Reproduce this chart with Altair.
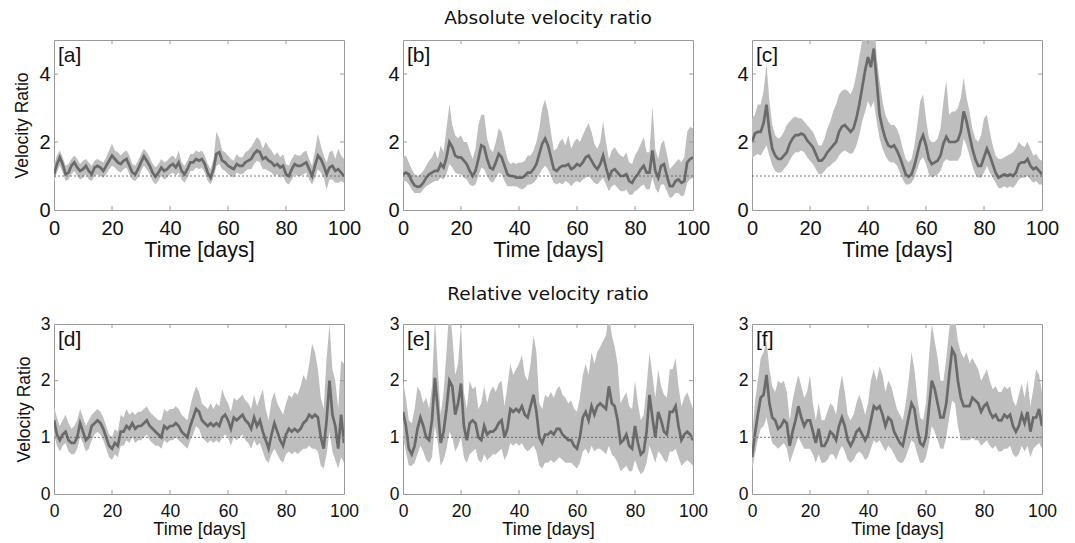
import altair as alt
import pandas as pd

days = list(range(101))

# ---- panel [a] absolute ----
a_mean = [1.05,1.35,1.55,1.35,1.05,1.1,1.3,1.4,1.25,1.15,1.2,1.3,1.15,1.05,1.25,1.3,1.25,1.15,1.3,1.45,
          1.6,1.5,1.4,1.35,1.45,1.5,1.3,1.1,1.05,1.2,1.4,1.58,1.45,1.3,1.1,0.98,1.1,1.25,1.15,1.2,
          1.3,1.35,1.25,1.4,1.15,1.05,1.2,1.4,1.4,1.5,1.45,1.5,1.35,1.1,0.95,1.2,1.65,1.7,1.45,1.4,
          1.3,1.25,1.2,1.35,1.3,1.3,1.4,1.45,1.5,1.65,1.75,1.7,1.5,1.55,1.45,1.4,1.3,1.35,1.25,1.3,
          1.05,1.0,1.2,1.35,1.3,1.3,1.35,1.4,1.2,1.0,1.3,1.6,1.5,1.3,1.05,1.25,1.3,1.15,1.2,1.1,1.0]
a_hi = [1.3,1.6,1.75,1.55,1.3,1.35,1.5,1.6,1.5,1.35,1.45,1.5,1.4,1.3,1.45,1.5,1.45,1.4,1.55,1.75,
        1.95,1.75,1.7,1.6,1.7,1.75,1.6,1.35,1.3,1.45,1.65,1.8,1.7,1.55,1.35,1.25,1.35,1.5,1.4,1.45,
        1.55,1.6,1.5,1.75,1.4,1.3,1.45,1.65,1.65,1.75,1.7,1.75,1.6,1.35,1.2,1.5,2.3,2.1,1.75,1.7,
        1.6,1.5,1.45,1.65,1.55,1.55,1.7,1.75,1.85,2.0,2.15,2.05,1.8,2.0,1.85,1.75,1.6,1.7,1.55,1.65,
        1.35,1.3,1.5,1.65,1.6,1.6,1.7,1.75,1.5,1.3,1.75,2.25,1.9,1.6,1.4,1.7,1.75,1.5,1.8,1.6,1.5]
a_lo = [0.8,1.1,1.3,1.1,0.85,0.9,1.05,1.15,1.0,0.9,0.95,1.05,0.9,0.85,1.0,1.05,1.0,0.95,1.05,1.2,
        1.3,1.25,1.15,1.1,1.2,1.25,1.05,0.9,0.85,0.95,1.15,1.3,1.2,1.05,0.85,0.75,0.85,1.0,0.9,0.95,
        1.05,1.1,1.0,1.1,0.9,0.8,0.95,1.15,1.15,1.25,1.2,1.25,1.1,0.85,0.75,0.95,1.3,1.35,1.2,1.15,
        1.05,1.0,0.95,1.1,1.05,1.05,1.15,1.2,1.2,1.35,1.45,1.4,1.2,1.2,1.15,1.1,1.0,1.05,0.95,1.0,
        0.8,0.75,0.9,1.05,1.0,1.0,1.05,1.1,0.9,0.75,0.95,1.2,1.1,0.95,0.6,0.9,0.9,0.8,0.8,0.85,0.8]

# ---- panel [b] absolute ----
b_mean = [1.05,1.1,1.05,0.85,0.72,0.68,0.7,0.8,0.95,1.05,1.1,1.15,1.15,1.35,1.25,1.55,2.0,1.85,1.6,1.55,
          1.55,1.45,1.35,1.15,1.0,1.15,1.5,1.9,1.85,1.5,1.25,1.2,1.4,1.65,1.55,1.3,1.05,1.0,1.0,0.95,
          0.95,0.95,1.0,1.1,1.1,1.2,1.35,1.65,1.95,2.1,1.9,1.55,1.2,1.15,1.25,1.3,1.3,1.35,1.2,1.25,
          1.35,1.3,1.4,1.55,1.6,1.45,1.3,1.2,1.35,1.6,1.25,0.95,1.15,1.2,1.1,1.0,1.0,1.05,0.85,0.8,
          0.95,1.05,1.2,1.3,1.1,1.1,1.75,1.15,0.95,1.3,1.35,1.0,0.7,0.7,0.85,0.9,0.8,0.85,1.4,1.5,1.55]
b_hi = [1.55,1.6,1.4,1.2,1.05,1.0,1.05,1.15,1.3,1.45,1.55,1.75,1.5,1.9,1.7,2.4,3.1,2.5,2.2,2.1,
        2.2,2.0,2.0,1.75,1.5,1.8,2.5,2.8,2.8,2.1,1.8,1.7,2.0,2.4,2.3,1.9,1.5,1.35,1.4,1.35,
        1.4,1.4,1.45,1.6,1.6,1.75,2.0,2.4,3.0,3.25,2.9,2.3,1.75,1.8,2.0,2.1,1.9,2.2,1.8,2.0,
        2.1,2.0,2.2,2.4,2.55,2.3,1.95,1.8,2.0,2.6,2.0,1.5,1.75,1.85,1.7,1.6,1.55,1.7,1.4,1.35,
        1.6,1.75,1.95,2.15,1.7,1.7,3.05,1.8,1.5,1.95,2.05,1.65,1.2,1.3,1.4,1.5,1.4,1.55,2.3,2.45,2.4]
b_lo = [0.85,0.85,0.75,0.6,0.5,0.5,0.5,0.6,0.7,0.75,0.8,0.85,0.85,0.95,0.9,1.05,1.35,1.25,1.1,1.05,
        1.05,0.95,0.9,0.75,0.7,0.75,1.0,1.25,1.2,1.0,0.85,0.8,0.95,1.1,1.05,0.85,0.7,0.7,0.7,0.7,
        0.65,0.6,0.65,0.75,0.75,0.8,0.9,1.05,1.2,1.3,1.2,1.0,0.8,0.75,0.8,0.75,0.85,0.8,0.7,0.8,
        0.85,0.8,0.9,0.95,1.0,0.9,0.8,0.75,0.85,0.95,0.75,0.55,0.7,0.75,0.65,0.55,0.55,0.6,0.45,0.45,
        0.55,0.6,0.7,0.75,0.6,0.6,0.95,0.65,0.5,0.75,0.75,0.55,0.35,0.4,0.5,0.5,0.4,0.45,0.8,0.9,0.95]

# ---- panel [c] absolute ----
c_mean = [2.0,2.25,2.3,2.3,2.55,3.1,2.3,1.8,1.6,1.5,1.5,1.6,1.7,1.95,2.1,2.2,2.2,2.25,2.2,2.05,
          1.95,1.85,1.65,1.45,1.45,1.55,1.7,1.8,1.9,2.0,2.3,2.45,2.5,2.4,2.3,2.4,2.7,3.1,3.6,4.1,
          4.5,4.2,4.75,3.8,2.8,2.4,2.1,1.9,1.85,1.9,1.75,1.55,1.3,1.05,0.98,1.05,1.3,1.65,2.0,2.2,
          1.9,1.5,1.35,1.4,1.45,1.6,1.95,2.15,2.0,2.0,2.0,2.05,2.3,2.9,2.6,2.2,1.8,1.5,1.3,1.3,
          1.55,1.8,1.6,1.35,1.1,0.95,1.0,1.05,1.0,1.05,1.0,1.1,1.35,1.4,1.4,1.5,1.3,1.2,1.25,1.15,1.05]
c_hi = [2.7,2.8,3.1,3.1,3.5,4.3,3.2,2.5,2.2,2.1,2.15,2.3,2.5,2.6,2.7,2.75,2.7,2.7,2.6,2.5,
        2.4,2.3,2.1,1.9,1.9,2.1,2.4,2.6,2.9,3.1,3.4,3.5,3.55,3.5,3.4,3.6,4.0,4.5,5.0,5.5,
        5.8,5.5,5.8,4.5,3.8,3.2,2.8,2.6,2.5,2.5,2.4,2.15,1.8,1.5,1.4,1.5,1.9,2.5,3.2,3.4,
        2.7,2.1,2.0,2.0,2.1,2.4,3.2,3.8,2.8,2.9,2.9,3.0,3.3,3.9,3.3,2.9,2.4,2.1,2.0,2.2,
        2.7,2.8,2.3,1.9,1.6,1.5,1.5,1.55,1.6,1.65,1.7,1.8,2.0,1.9,1.85,2.0,1.8,1.6,1.65,1.5,1.45]
c_lo = [1.5,1.6,1.65,1.6,1.75,1.9,1.6,1.3,1.15,1.1,1.1,1.2,1.3,1.45,1.6,1.7,1.7,1.75,1.7,1.55,
        1.45,1.35,1.2,1.05,1.05,1.15,1.25,1.3,1.4,1.45,1.6,1.7,1.75,1.7,1.65,1.7,1.9,2.2,2.6,2.9,
        3.2,3.0,3.2,2.6,2.1,1.8,1.6,1.45,1.4,1.4,1.3,1.1,0.9,0.75,0.75,0.8,0.95,1.2,1.45,1.55,
        1.35,1.05,0.95,1.0,1.05,1.15,1.4,1.5,1.45,1.45,1.45,1.45,1.6,2.1,1.9,1.6,1.3,1.05,0.95,0.95,
        1.1,1.3,1.1,0.95,0.8,0.65,0.65,0.7,0.65,0.7,0.65,0.75,0.9,0.95,0.95,1.0,0.9,0.8,0.85,0.75,0.75]

# ---- panel [d] relative ----
d_mean = [1.3,1.05,0.95,1.05,1.1,0.95,0.9,0.9,1.0,1.25,1.1,0.95,1.0,1.2,1.25,1.3,1.25,1.15,1.0,0.85,
          0.8,0.9,0.85,1.1,1.1,1.2,1.15,1.25,1.15,1.2,1.2,1.25,1.3,1.2,1.15,1.1,1.05,1.0,1.2,1.15,
          1.2,1.2,1.25,1.2,1.1,1.05,1.0,1.2,1.35,1.5,1.45,1.3,1.25,1.2,1.25,1.2,1.25,1.2,1.35,1.4,
          1.3,1.15,1.35,1.3,1.35,1.4,1.3,1.25,1.15,1.35,1.2,1.3,1.1,0.95,0.8,1.05,1.25,1.1,0.95,0.85,
          1.05,1.15,1.1,1.15,1.1,1.15,1.25,1.3,1.4,1.35,1.4,1.35,1.0,0.8,1.3,2.0,1.4,1.2,0.8,1.4,0.9]
d_hi = [1.55,1.35,1.2,1.3,1.4,1.25,1.15,1.2,1.3,1.5,1.35,1.2,1.3,1.4,1.45,1.5,1.45,1.35,1.2,1.05,
        1.0,1.15,1.1,1.4,1.35,1.5,1.4,1.45,1.4,1.45,1.45,1.5,1.55,1.45,1.4,1.35,1.3,1.3,1.5,1.45,
        1.5,1.5,1.55,1.5,1.4,1.35,1.3,1.55,1.75,1.9,1.8,1.6,1.55,1.5,1.6,1.5,1.6,1.55,1.85,1.7,
        1.6,1.45,1.7,1.65,1.7,1.75,1.65,1.6,1.5,1.75,1.55,1.7,1.85,1.5,1.3,1.65,1.8,1.6,1.5,1.4,
        1.6,1.75,1.7,1.8,1.75,1.9,2.1,2.0,2.3,2.65,2.5,2.2,1.7,1.5,2.4,3.0,2.2,2.0,1.5,2.35,2.3]
d_lo = [1.05,0.85,0.75,0.85,0.9,0.75,0.7,0.7,0.8,1.0,0.9,0.75,0.8,0.95,1.05,1.1,1.05,0.95,0.8,0.65,
        0.6,0.7,0.65,0.85,0.85,0.95,0.9,1.0,0.9,0.95,0.95,1.0,1.05,0.95,0.9,0.85,0.85,0.8,0.95,0.9,
        0.95,0.95,1.0,0.95,0.9,0.85,0.8,0.95,1.05,1.2,1.15,1.0,0.95,0.9,0.95,0.9,0.95,0.9,1.0,1.05,
        1.0,0.85,1.0,0.95,1.0,1.05,0.95,0.9,0.8,0.95,0.85,0.9,0.75,0.6,0.55,0.7,0.8,0.7,0.6,0.55,
        0.7,0.75,0.7,0.75,0.7,0.75,0.8,0.8,0.85,0.8,0.8,0.75,0.5,0.45,0.7,1.1,0.75,0.6,0.45,0.65,0.55]

# ---- panel [e] relative ----
e_mean = [1.45,1.2,0.8,0.7,0.85,1.15,1.35,1.2,1.0,0.95,1.3,2.05,1.5,0.9,1.1,1.5,2.0,1.9,1.4,1.6,
          1.95,1.2,0.95,1.25,1.3,1.25,1.0,0.95,1.2,1.05,1.1,1.1,1.15,1.25,1.3,1.0,1.15,1.5,1.45,1.5,
          1.45,1.55,1.4,1.35,1.55,1.75,1.45,1.0,0.9,1.05,1.05,1.1,1.05,1.15,1.15,1.05,1.0,0.95,0.95,0.85,
          0.8,1.0,1.35,1.45,1.3,1.55,1.4,1.55,1.6,1.55,1.5,1.9,1.6,1.55,1.3,0.9,0.95,1.05,0.85,0.8,
          1.2,0.9,0.7,0.75,1.1,1.75,1.35,1.0,1.45,1.3,1.1,1.05,1.45,1.45,1.55,1.2,0.95,1.05,1.1,1.05,0.95]
e_hi = [2.0,1.7,1.3,1.25,1.5,1.9,1.8,1.6,1.7,1.5,1.9,3.1,2.2,1.4,1.8,2.5,3.3,2.8,2.1,2.3,
        3.0,1.8,1.5,2.0,1.85,1.9,1.5,1.6,1.9,1.6,1.8,1.9,1.8,1.95,2.0,1.55,1.9,2.3,2.1,2.2,
        2.3,2.45,2.1,2.0,2.3,2.8,2.5,1.6,1.5,1.75,1.7,1.8,1.7,1.85,1.9,1.75,1.7,1.6,1.65,1.5,
        1.45,1.7,2.1,2.3,2.1,2.5,2.3,2.5,2.6,2.7,2.8,3.2,2.8,2.6,2.3,1.6,1.7,1.8,1.55,1.5,
        2.0,1.6,1.3,1.4,1.9,2.5,2.1,1.7,2.2,1.9,1.75,1.7,2.2,2.2,2.4,1.9,1.55,1.7,1.8,1.65,1.5]
e_lo = [1.0,0.75,0.5,0.5,0.55,0.7,0.85,0.75,0.6,0.55,0.65,1.2,0.9,0.5,0.6,0.8,1.1,1.0,0.75,0.85,
        1.0,0.65,0.55,0.7,0.75,0.8,0.6,0.55,0.7,0.6,0.65,0.7,0.7,0.75,0.8,0.6,0.7,0.9,0.85,0.9,
        0.85,0.9,0.8,0.75,0.8,0.85,0.75,0.5,0.45,0.55,0.55,0.6,0.55,0.6,0.65,0.6,0.55,0.55,0.55,0.5,
        0.45,0.55,0.75,0.8,0.7,0.85,0.75,0.8,0.8,0.75,0.7,0.85,0.7,0.65,0.55,0.4,0.45,0.5,0.4,0.4,
        0.6,0.45,0.35,0.4,0.55,0.85,0.7,0.55,0.75,0.7,0.6,0.55,0.75,0.75,0.8,0.65,0.5,0.55,0.6,0.55,0.5]

# ---- panel [f] relative ----
f_mean = [0.65,1.05,1.4,1.7,1.75,2.1,1.6,1.35,1.3,1.15,1.2,1.3,1.25,0.85,1.1,1.3,1.55,1.35,1.2,1.3,
          1.3,1.1,0.9,1.15,0.85,0.85,0.95,1.1,1.05,0.95,1.2,1.35,1.2,0.95,0.85,0.95,1.1,1.15,1.05,0.95,
          1.05,1.3,1.55,1.5,1.55,1.4,1.2,1.35,1.3,1.1,1.0,0.9,0.85,1.1,1.35,1.6,1.5,1.15,0.9,0.85,
          1.0,1.5,2.0,1.85,1.6,1.35,1.35,1.6,2.1,2.55,2.45,2.0,1.7,1.55,1.55,1.55,1.7,1.65,1.6,1.45,
          1.55,1.6,1.45,1.35,1.4,1.3,1.3,1.4,1.35,1.4,1.2,1.1,1.2,1.4,1.25,1.45,1.1,1.35,1.35,1.5,1.2]
f_hi = [1.0,1.6,2.0,2.4,2.5,2.7,2.2,1.9,1.8,2.0,1.95,2.0,1.8,1.3,1.65,1.9,2.1,1.9,1.7,1.8,
        2.1,1.6,1.3,1.6,1.3,1.3,1.45,1.6,1.55,1.4,1.8,2.1,1.8,1.4,1.3,1.4,1.6,1.75,1.6,1.4,
        1.6,2.0,2.2,2.0,2.25,2.1,1.8,2.0,1.9,1.7,1.5,1.4,1.3,1.6,2.0,2.5,2.2,1.7,1.35,1.3,
        1.6,2.4,3.0,2.7,2.4,2.0,2.0,2.4,2.9,3.2,3.1,2.7,2.5,2.4,2.5,2.3,2.4,2.3,2.2,2.0,
        2.1,2.2,2.0,1.85,1.9,1.8,1.8,1.9,1.85,1.9,1.65,1.55,1.75,1.95,1.7,2.0,1.55,1.85,2.2,2.1,1.8]
f_lo = [0.4,0.7,0.95,1.15,1.2,1.35,1.1,0.9,0.85,0.8,0.85,0.9,0.8,0.55,0.7,0.85,1.0,0.9,0.8,0.8,
        0.8,0.7,0.55,0.7,0.55,0.55,0.6,0.7,0.7,0.6,0.75,0.85,0.75,0.6,0.55,0.6,0.7,0.75,0.7,0.6,
        0.65,0.8,0.95,0.9,0.95,0.85,0.75,0.85,0.8,0.7,0.6,0.55,0.55,0.65,0.8,0.95,0.9,0.7,0.55,0.55,
        0.65,0.9,1.2,1.1,0.95,0.8,0.8,1.0,1.35,1.65,1.6,1.2,0.95,0.95,0.95,0.95,1.0,0.95,0.95,0.85,
        0.9,0.95,0.85,0.8,0.85,0.75,0.75,0.8,0.8,0.85,0.7,0.65,0.7,0.85,0.75,0.85,0.65,0.8,0.85,0.9,0.8]

x_ticks = [0, 20, 40, 60, 80, 100]
x_inner = [20, 40, 60, 80]
top_yticks = [0, 2, 4]
top_inner = [2, 4]
bot_yticks = [0, 1, 2, 3]
bot_inner = [1, 2]

W, H = 290, 170
BAND = "#bebebe"
LINE = "#6a6a6a"
FRAME = "#9a9a9a"
FONT = "Liberation Sans"


def panel(mean, lo, hi, tag, ymax, yvals, yinner, big, ytitle, title=None):
    df = pd.DataFrame({"day": days, "mean": mean, "lo": lo, "hi": hi})
    lab = 20 if big else 17.5
    tit = 21.5 if big else 18
    xs = alt.Scale(domain=[0, 100], nice=False, zero=False)
    ys = alt.Scale(domain=[0, ymax], nice=False, zero=False)
    xax = alt.Axis(values=x_ticks, title="Time [days]", labelFontSize=lab, titleFontSize=tit,
                   labelPadding=8, titlePadding=1, format="d", grid=False,
                   ticks=False, domain=False, titleFontWeight="normal", labelFlush=False,
                   labelOverlap=False)
    yax_kw = dict(values=yvals, labelFontSize=lab, labelPadding=4, format="d", grid=False,
                  ticks=False, domain=False, titleFontWeight="normal", labelFlush=False,
                  labelOverlap=False)
    if ytitle:
        yax = alt.Axis(title="Velocity Ratio", titleFontSize=17.5, titlePadding=7, **yax_kw)
    else:
        yax = alt.Axis(title=None, **yax_kw)
    base = alt.Chart(df)
    band = base.mark_area(color=BAND, clip=True, opacity=1).encode(
        x=alt.X("day:Q", scale=xs, axis=xax),
        y=alt.Y("lo:Q", scale=ys, axis=yax),
        y2="hi:Q",
    )
    line = base.mark_line(color=LINE, strokeWidth=2.7, clip=True).encode(
        x="day:Q", y="mean:Q"
    )
    ref = alt.Chart(pd.DataFrame({"r": [1]})).mark_rule(
        color="#555555", strokeWidth=0.8, strokeDash=[2, 2]
    ).encode(y="r:Q")
    xt = pd.DataFrame({"t": x_inner})
    yt = pd.DataFrame({"t": yinner})
    tick_style = dict(color=FRAME, strokeWidth=1)
    xb = alt.Chart(xt).mark_rule(**tick_style).encode(x="t:Q", y=alt.value(H), y2=alt.value(H - 4))
    xtp = alt.Chart(xt).mark_rule(**tick_style).encode(x="t:Q", y=alt.value(0), y2=alt.value(4))
    yl = alt.Chart(yt).mark_rule(**tick_style).encode(y="t:Q", x=alt.value(0), x2=alt.value(4))
    yr = alt.Chart(yt).mark_rule(**tick_style).encode(y="t:Q", x=alt.value(W), x2=alt.value(W - 4))
    txt = alt.Chart(pd.DataFrame({"s": [tag]})).mark_text(
        align="left", baseline="top", font=FONT, fontSize=21, color="#111111"
    ).encode(text="s:N", x=alt.value(4), y=alt.value(5))
    props = dict(width=W, height=H)
    if title:
        props["title"] = alt.Title(title, fontSize=18.5, font="DejaVu Sans", fontWeight="normal",
                                   color="#111111", offset=12)
    return alt.layer(band, line, ref, xb, xtp, yl, yr, txt).properties(**props)


pa = panel(a_mean, a_lo, a_hi, "[a]", 5, top_yticks, top_inner, True, True)
pb = panel(b_mean, b_lo, b_hi, "[b]", 5, top_yticks, top_inner, True, False, "Absolute velocity ratio")
pc = panel(c_mean, c_lo, c_hi, "[c]", 5, top_yticks, top_inner, True, False)
pd_ = panel(d_mean, d_lo, d_hi, "[d]", 3, bot_yticks, bot_inner, False, True)
pe = panel(e_mean, e_lo, e_hi, "[e]", 3, bot_yticks, bot_inner, False, False, "Relative velocity ratio")
pf = panel(f_mean, f_lo, f_hi, "[f]", 3, bot_yticks, bot_inner, False, False)

chart = alt.concat(pa, pb, pc, pd_, pe, pf, columns=3, spacing={"row": 114, "column": 59},
                   bounds="flush").properties(
    padding={"left": 13, "top": 8, "right": 5, "bottom": 5},
    background="white",
).configure_view(stroke=FRAME, strokeWidth=1).configure_axis(
    domain=False, grid=False, ticks=False, labelFont=FONT, titleFont=FONT,
    labelColor="#111111", titleColor="#111111", titleFontWeight="normal"
)

chart.save("out.html", embed_options={"renderer": "svg", "actions": False})
